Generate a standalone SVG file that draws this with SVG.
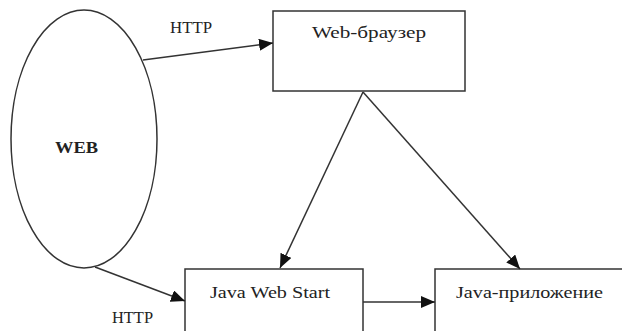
<svg xmlns="http://www.w3.org/2000/svg" width="622" height="331" viewBox="0 0 622 331">
<style>
.s{fill:#fff;stroke:#333;stroke-width:1.5}
.t{font-family:'Liberation Serif','DejaVu Serif',serif;font-size:16px;fill:#222}
.c{stroke:#333;stroke-width:1.5;fill:none}
</style>
<defs>
<marker id="a" viewBox="0 0 14 12" refX="14" refY="6" markerWidth="14" markerHeight="12" markerUnits="userSpaceOnUse" orient="auto">
<path d="M0,0L14,6L0,12z" fill="#111"/>
</marker>
</defs>
<rect width="622" height="331" fill="#fff"/>
<g id="web">
<ellipse class="s" cx="84" cy="139" rx="73" ry="129"/>
<text class="t" x="55" y="153" font-weight="bold" textLength="43" lengthAdjust="spacingAndGlyphs">WEB</text>
</g>
<g id="browser">
<rect class="s" x="273" y="11" width="192" height="80"/>
<text class="t" x="312" y="38" textLength="114" lengthAdjust="spacingAndGlyphs">Web-браузер</text>
</g>
<g id="jws">
<rect class="s" x="185" y="269" width="178" height="80"/>
<text class="t" x="210" y="298" textLength="120" lengthAdjust="spacingAndGlyphs">Java Web Start</text>
</g>
<g id="app">
<rect class="s" x="435" y="269" width="210" height="80"/>
<text class="t" x="456" y="298" textLength="147" lengthAdjust="spacingAndGlyphs">Java-приложение</text>
</g>
<g id="connectors">
<line class="c" x1="143" y1="60" x2="273" y2="43" marker-end="url(#a)"/>
<text class="t" x="170" y="33" textLength="42" lengthAdjust="spacingAndGlyphs">HTTP</text>
<line class="c" x1="95" y1="267" x2="185" y2="301" marker-end="url(#a)"/>
<text class="t" x="112" y="323" textLength="41" lengthAdjust="spacingAndGlyphs">HTTP</text>
<line class="c" x1="363" y1="92" x2="280" y2="268" marker-end="url(#a)"/>
<line class="c" x1="363" y1="92" x2="520" y2="269" marker-end="url(#a)"/>
<line class="c" x1="363" y1="302" x2="435" y2="302" marker-end="url(#a)"/>
</g>
</svg>
